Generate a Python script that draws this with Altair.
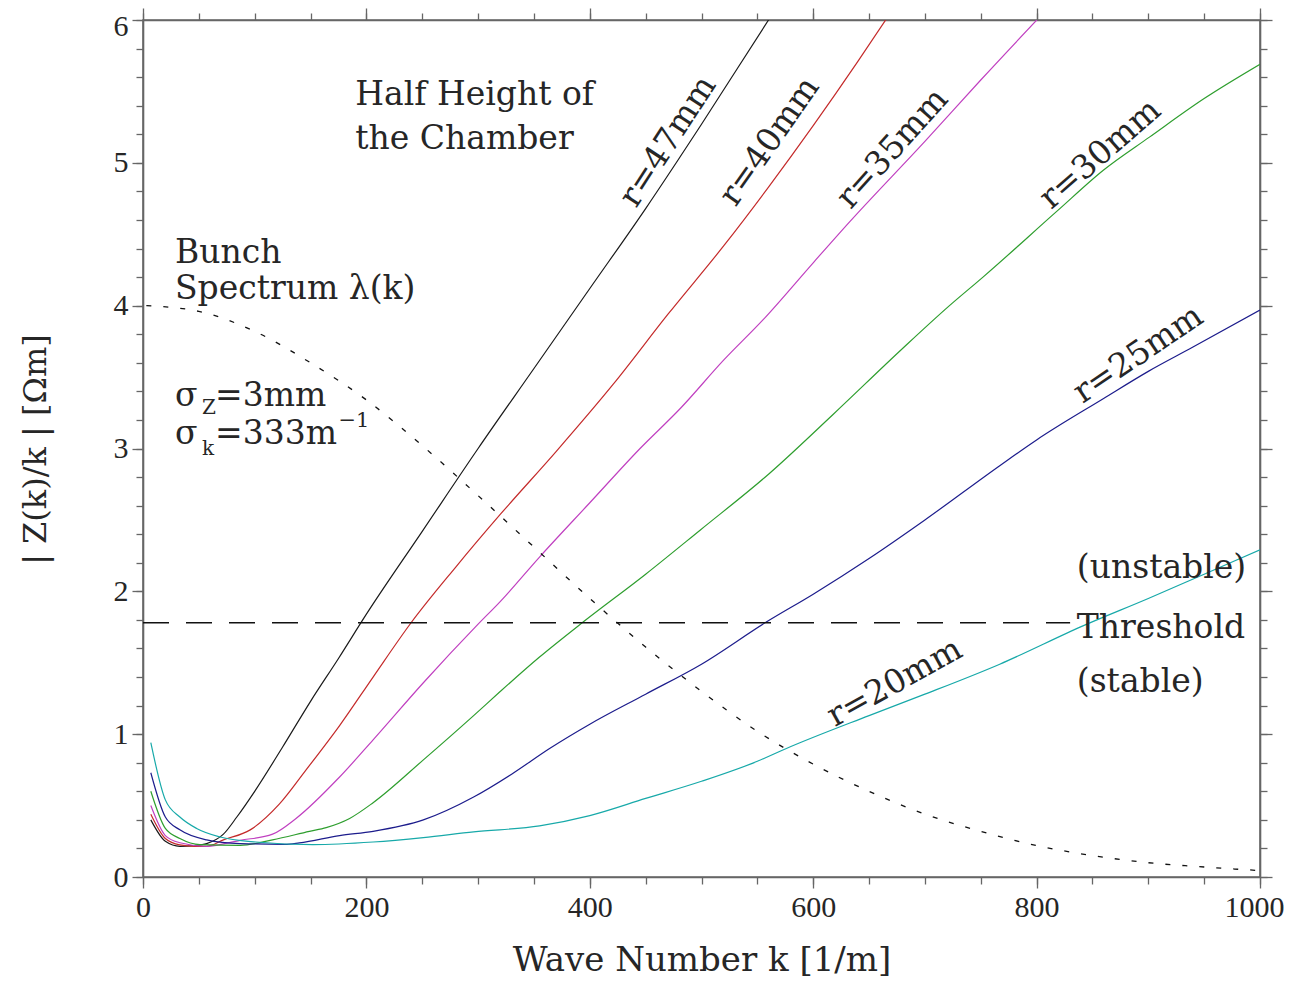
import altair as alt
import pandas as pd

# ---------------- data ----------------
series_names = ["r=47mm", "r=40mm", "r=35mm", "r=30mm", "r=25mm", "r=20mm"]
series_colors = ["#1a1a1a", "#c42a2a", "#c040c0", "#2e9e2e", "#1c1c8c", "#17a9a9"]

k_r47 = [7, 20, 33, 46, 57, 72, 84, 100, 125, 150, 175, 200, 250, 300, 350, 400, 450, 500, 560, 570]
v_r47 = [0.40, 0.25, 0.215, 0.22, 0.234, 0.30, 0.42, 0.60, 0.91, 1.23, 1.53, 1.84, 2.42, 3.00, 3.56, 4.12, 4.68, 5.27, 6.0, 6.12]

k_r40 = [7, 20, 33, 46, 57, 72, 96, 122, 146, 176, 206, 240, 280, 320, 370, 421, 470, 520, 560, 600, 640, 670]
v_r40 = [0.44, 0.27, 0.225, 0.215, 0.215, 0.26, 0.33, 0.51, 0.75, 1.06, 1.40, 1.78, 2.17, 2.54, 2.98, 3.45, 3.94, 4.42, 4.83, 5.26, 5.71, 6.06]

k_r35 = [7, 20, 33, 57, 87, 116, 137, 176, 206, 251, 300, 320, 355, 400, 445, 481, 520, 555, 600, 633, 700, 750, 805]
v_r35 = [0.50, 0.29, 0.24, 0.215, 0.257, 0.30, 0.41, 0.70, 0.96, 1.36, 1.77, 1.93, 2.24, 2.62, 3.00, 3.28, 3.62, 3.90, 4.30, 4.59, 5.15, 5.58, 6.04]

k_r30 = [7, 20, 33, 51, 87, 116, 149, 164, 185, 206, 251, 296, 320, 355, 394, 450, 499, 560, 618, 680, 722, 752, 818, 860, 901, 950, 1000]
v_r30 = [0.60, 0.34, 0.27, 0.227, 0.222, 0.26, 0.32, 0.346, 0.41, 0.52, 0.82, 1.13, 1.30, 1.54, 1.785, 2.12, 2.43, 2.82, 3.24, 3.70, 4.00, 4.20, 4.66, 4.95, 5.18, 5.45, 5.69]

k_r25 = [7, 20, 33, 57, 87, 127, 140, 176, 206, 251, 296, 330, 364, 400, 450, 500, 558, 600, 650, 700, 767, 800, 860, 900, 940, 1000]
v_r25 = [0.73, 0.42, 0.33, 0.26, 0.234, 0.229, 0.239, 0.29, 0.32, 0.40, 0.56, 0.72, 0.90, 1.07, 1.28, 1.49, 1.785, 1.98, 2.23, 2.50, 2.88, 3.06, 3.35, 3.54, 3.71, 3.97]

k_r20 = [7, 20, 33, 48, 69, 101, 152, 206, 251, 296, 355, 400, 450, 500, 550, 576, 650, 700, 767, 842, 900, 950, 1000]
v_r20 = [0.94, 0.54, 0.42, 0.34, 0.28, 0.245, 0.227, 0.245, 0.276, 0.316, 0.358, 0.43, 0.55, 0.67, 0.81, 0.90, 1.13, 1.28, 1.49, 1.76, 1.95, 2.12, 2.29]

k_spec = [3, 50, 100, 150, 200, 250, 300, 350, 400, 450, 500, 550, 600, 650, 700, 750, 800, 850, 900, 950, 1000]
v_spec = [4.0, 3.96, 3.82, 3.60, 3.34, 3.02, 2.67, 2.31, 1.95, 1.61, 1.30, 1.02, 0.79, 0.60, 0.44, 0.32, 0.22, 0.15, 0.10, 0.07, 0.045]

k_thr = [0, 830]
v_thr = [1.78, 1.78]

x_major = [0, 200, 400, 600, 800, 1000]
x_minor = list(range(0, 1001, 50))
y_major = [0, 1, 2, 3, 4, 5, 6]
y_minor = [i / 5 for i in range(0, 31)]

# annotation texts (left aligned, alphabetic baseline)
ann_text = ["Half Height of", "the Chamber", "Bunch", "Spectrum \u03bb(k)",
            "\u03c3", "Z", "=3mm", "\u03c3", "k", "=333m", "\u22121",
            "(unstable)", "Threshold", "(stable)"]
ann_k = [190, 190, 28.6, 28.6, 28.6, 52.8, 64.5, 28.6, 52.8, 64.5, 175, 836, 836, 836]
ann_v = [5.406, 5.098, 4.30, 4.049, 3.30, 3.245, 3.30, 3.035, 2.951, 3.035, 3.15, 2.09, 1.671, 1.294]
ann_size = [33, 33, 33, 33, 33, 20, 33, 33, 20, 33, 21, 33, 33, 33]

# rotated curve labels (centered)
lab_text = series_names
lab_k = [470, 561, 671, 857, 891, 673]
lab_v = [5.15, 5.15, 5.10, 5.06, 3.66, 1.36]
lab_angle = [303, 305, 312, 319, 326, 331]

# ---------------- tables ----------------
curve_k = [k_r47, k_r40, k_r35, k_r30, k_r25, k_r20]
curve_v = [v_r47, v_r40, v_r35, v_r30, v_r25, v_r20]
rows = []
for name, ks, vs in zip(series_names, curve_k, curve_v):
    for k, v in zip(ks, vs):
        rows.append({"k": k, "v": v, "series": name})
curves = pd.DataFrame(rows)
spec = pd.DataFrame({"k": k_spec, "v": v_spec})
thr = pd.DataFrame({"k": k_thr, "v": v_thr})
ann = pd.DataFrame({"t": ann_text, "k": ann_k, "v": ann_v, "s": ann_size})
labs = pd.DataFrame({"t": lab_text, "k": lab_k, "v": lab_v, "a": lab_angle})

XS = alt.Scale(domain=[0, 1000], nice=False, zero=False)
YS = alt.Scale(domain=[0, 6], nice=False, zero=False)

SERIF = "DejaVu Serif"
TICKF = "Liberation Serif"
AXC = "#666666"
TXT = "#262626"


def axis(orient, values, size, labels=False, domain=False, **kw):
    return alt.Axis(orient=orient, values=values, tickSize=size, labels=labels,
                    domain=domain, domainColor=AXC, domainWidth=1.6,
                    tickColor=AXC, tickWidth=1.3, grid=False, ticks=True,
                    labelFont=TICKF, labelFontSize=30, labelColor=TXT,
                    labelFlush=False, labelOverlap=False, **kw)


x_bottom_major = axis("bottom", x_major, 11, labels=True, domain=True, labelPadding=4,
                      format="d",
                      labelOffset={"expr": "datum.value == 1000 ? -6 : 0"},
                      title="Wave Number k [1/m]", titleFont=SERIF, titleFontSize=34,
                      titleFontWeight="normal", titleColor=TXT, titleY=93,
                      titleBaseline="alphabetic")
y_left_major = axis("left", y_major, 11, labels=True, domain=True, labelPadding=4,
                    format="d",
                    labelOffset={"expr": "datum.value == 6 ? 6 : 0"},
                    title="| Z(k)/k |   [\u03a9m]", titleFont=SERIF, titleFontSize=32,
                    titleFontWeight="normal", titleColor=TXT, titleX=-108, titleY=429,
                    titleAngle=270, titleAlign="center", titleBaseline="middle")

curve_layer = alt.Chart(curves).mark_line(strokeWidth=1.2, clip=True, interpolate="monotone").encode(
    x=alt.X("k:Q", scale=XS, axis=x_bottom_major),
    y=alt.Y("v:Q", scale=YS, axis=y_left_major),
    color=alt.Color("series:N", scale=alt.Scale(domain=series_names, range=series_colors), legend=None),
    detail="series:N",
)

spec_layer = alt.Chart(spec).mark_line(strokeWidth=1.3, strokeDash=[5, 12], color="#111111",
                                       clip=True, interpolate="monotone").encode(
    x=alt.X("k:Q", scale=XS, axis=axis("bottom", x_minor, 7, title=None)),
    y=alt.Y("v:Q", scale=YS, axis=axis("left", y_minor, 7, title=None)),
)

thr_layer = alt.Chart(thr).mark_line(strokeWidth=1.4, strokeDash=[26, 17], color="#111111").encode(
    x=alt.X("k:Q", scale=XS, axis=axis("top", x_major, 12, domain=True, title=None)),
    y=alt.Y("v:Q", scale=YS, axis=axis("right", y_major, 12, domain=True, title=None)),
)

ann_layer = alt.Chart(ann).mark_text(font=SERIF, color=TXT, align="left", baseline="alphabetic").encode(
    x=alt.X("k:Q", scale=XS, axis=axis("top", x_minor, 7, title=None)),
    y=alt.Y("v:Q", scale=YS, axis=axis("right", y_minor, 7, title=None)),
    text="t:N",
    size=alt.Size("s:Q", scale=None),
)

lab_layer = alt.Chart(labs).mark_text(font=SERIF, color=TXT, align="center", baseline="middle",
                                      fontSize=33).encode(
    x=alt.X("k:Q", scale=XS, axis=None),
    y=alt.Y("v:Q", scale=YS, axis=None),
    text="t:N",
    angle=alt.Angle("a:Q", scale=None),
)

chart = alt.layer(curve_layer, spec_layer, thr_layer, ann_layer, lab_layer).resolve_axis(
    x="independent", y="independent"
).properties(
    width=1117, height=857, autosize="none",
    padding={"left": 135, "top": 12, "right": 24, "bottom": 101},
    background="white",
).configure_view(stroke=AXC, strokeWidth=1.6)

chart.save("out.html", embed_options={"renderer": "svg", "actions": False})
